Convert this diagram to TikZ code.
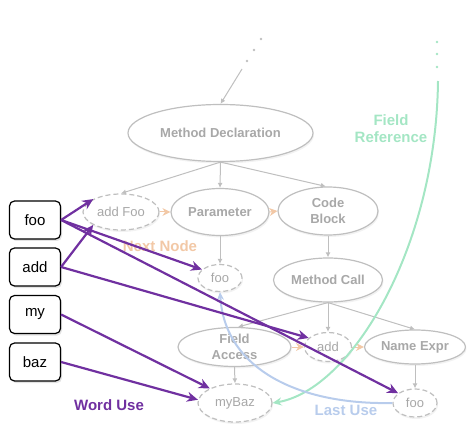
\documentclass[tikz,border=0pt]{standalone}
\usepackage{fontspec}
\setmainfont{Liberation Sans}
\usetikzlibrary{shapes,arrows.meta,shadows}
\definecolor{edgegray}{HTML}{BFBFBF}
\definecolor{textgray}{HTML}{A8A8A8}
\definecolor{wordpurple}{HTML}{7030A0}
\definecolor{nextorange}{HTML}{F2C8A6}
\definecolor{fieldgreen}{HTML}{A4E6C4}
\definecolor{lastblue}{HTML}{B8CCEC}
\tikzset{
  astnode/.style={ellipse,draw=edgegray,line width=1.2pt,fill=white,inner sep=0pt,text=textgray,
    font=\fontsize{13}{16}\selectfont\bfseries,align=center,
    drop shadow={opacity=0.10,shadow xshift=1pt,shadow yshift=-2pt}},
  tokennode/.style={astnode,dash pattern=on 5pt off 3pt,font=\fontsize{13}{16}\selectfont},
  wordbox/.style={draw=black,line width=1.2pt,rounded corners=5pt,fill=white,
    minimum width=51pt,minimum height=38pt,font=\fontsize{15}{18}\selectfont,
    drop shadow={opacity=0.22,shadow xshift=1.5pt,shadow yshift=-2pt}},
  treeedge/.style={draw=edgegray,line width=1pt,-{Latex[length=5pt,width=5pt]}},
  nextedge/.style={draw=nextorange,line width=1pt,-{Stealth[length=8pt,width=8pt]}},
  useedge/.style={draw=wordpurple,line width=2.2pt,-{Stealth[length=11pt,width=10pt]}},
  tagtext/.style={font=\fontsize{15}{17}\selectfont\bfseries}
}
\begin{document}
\begin{tikzpicture}[x=1pt,y=-1pt]
\useasboundingbox (0,0) rectangle (473,435);
\node[astnode,minimum width=185pt,minimum height=57pt] (md) at (220.5,133) {Method Declaration};
\node[tokennode,minimum width=76pt,minimum height=36pt] (addFoo) at (121,212) {add Foo};
\node[astnode,minimum width=98pt,minimum height=47pt] (param) at (220,212) {Parameter};
\node[astnode,minimum width=100pt,minimum height=48pt] (cb) at (328,211) {Code\\Block};
\node[tokennode,minimum width=44pt,minimum height=27pt] (fooMid) at (220,278) {foo};
\node[astnode,minimum width=109pt,minimum height=44pt] (mc) at (328,280) {Method Call};
\node[astnode,minimum width=113pt,minimum height=39pt] (fa) at (234.5,347) {Field\\Access};
\node[tokennode,minimum width=47pt,minimum height=29pt] (addMid) at (328,347) {add};
\node[astnode,minimum width=101pt,minimum height=34pt] (ne) at (415,347) {Name Expr};
\node[tokennode,minimum width=74pt,minimum height=38pt] (myBaz) at (235,403) {myBaz};
\node[tokennode,minimum width=44pt,minimum height=28pt] (fooEnd) at (415,403) {foo};
\node[wordbox] (fooW) at (35,220) {foo};
\node[wordbox] (addW) at (35,267) {add};
\node[wordbox] (myW) at (35,314.5) {my};
\node[wordbox] (bazW) at (35,362) {baz};
\foreach \p in {(261,39),(254,50),(247,61)}
  \fill[edgegray] \p circle (1.3pt);
\foreach \p in {(437,42),(437,54),(437,67)}
  \fill[fieldgreen] \p circle (1.3pt);
\coordinate (up) at (242,69);
\coordinate (fieldTop) at (438,81);
\draw[treeedge] (up) -- (md.north);
\draw[treeedge] (md.south) -- (addFoo.north);
\draw[treeedge] (md.south) -- (param.north);
\draw[treeedge] (md.south) -- (cb.95);
\draw[treeedge] (param.south) -- (fooMid.north);
\draw[treeedge] (cb.south) -- (mc.north);
\draw[treeedge] (mc.south) -- (fa.80);
\draw[treeedge] (mc.south) -- (addMid.north);
\draw[treeedge] (mc.south) -- (ne.north);
\draw[treeedge] (fa.south) -- (myBaz.north);
\draw[treeedge] (ne.south) -- (fooEnd.north);
\draw[nextedge] (addFoo.east) -- (param.west);
\draw[nextedge] (param.east) -- (cb.west);
\draw[nextedge] (fa.east) -- (addMid.west);
\draw[nextedge] (addMid.east) -- (ne.west);
\node[tagtext,text=nextorange] (nextLbl) at (160,246) {Next Node};
\node[tagtext,text=fieldgreen,align=center] (fieldLbl) at (391,128.5) {Field\\Reference};
\node[tagtext,text=wordpurple] (wordLbl) at (109,405) {Word Use};
\node[tagtext,text=lastblue] (lastLbl) at (346,410) {Last Use};
\draw[draw=fieldgreen,line width=2pt,-{Stealth[length=9pt,width=8pt]}] (fieldTop) .. controls (436,250) and (350,390) .. (myBaz.east);
\draw[draw=lastblue,line width=2pt,-{Stealth[length=8pt,width=7pt]}] (fooEnd.west) .. controls (300,405) and (225,370) .. (fooMid.south);
\draw[useedge] (fooW.east) -- (addFoo.155);
\draw[useedge] (fooW.east) -- (fooMid.155);
\draw[useedge] (fooW.east) -- (fooEnd.150);
\draw[useedge] (addW.east) -- (addFoo.205);
\draw[useedge] (addW.east) -- (addMid.155);
\draw[useedge] (myW.east) -- (myBaz.150);
\draw[useedge] (bazW.east) -- (myBaz.175);
\end{tikzpicture}
\end{document}
